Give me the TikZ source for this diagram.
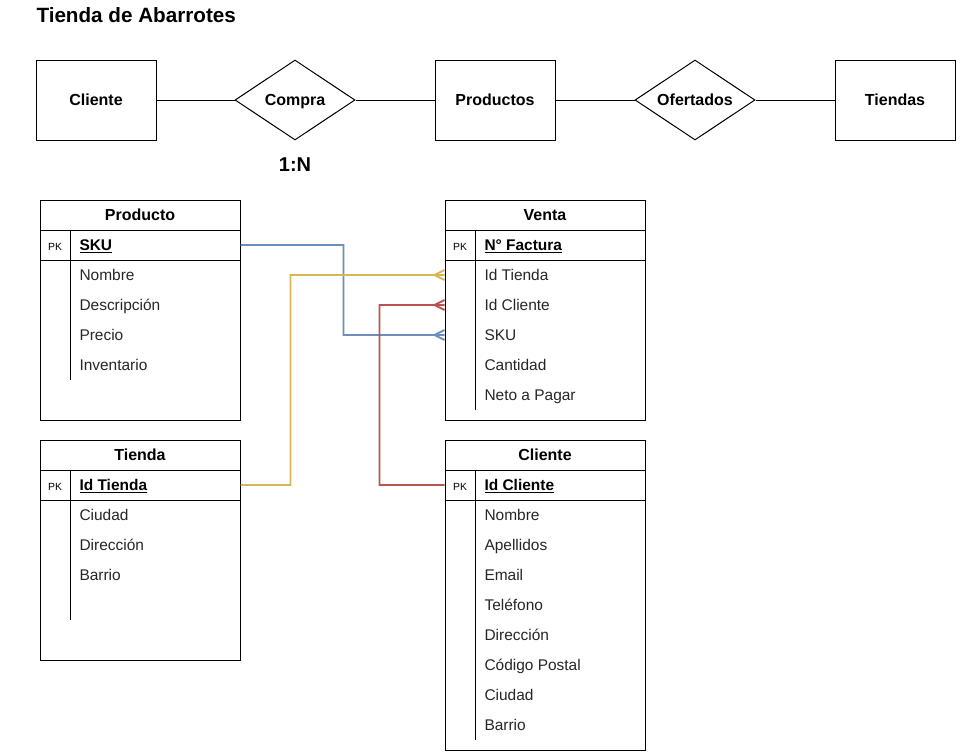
\documentclass[tikz,border=0pt]{standalone}
\usepackage{fontspec}
\setmainfont{Liberation Sans}
\usetikzlibrary{shapes.geometric}

\definecolor{fkblue}{HTML}{6C8EBF}
\definecolor{fkyellow}{HTML}{D6B656}
\definecolor{fkred}{HTML}{B85450}

\tikzset{
  titulo/.style={anchor=west, inner sep=0pt, text height=0.85em, text depth=0pt, font=\bfseries\fontsize{15.5}{18}\selectfont},
  entity/.style={draw, rectangle, minimum width=90pt, minimum height=60pt, inner sep=0pt, text height=0.85em, text depth=0pt, font=\bfseries\fontsize{12}{14}\selectfont},
  relation/.style={draw, diamond, minimum width=90pt, minimum height=60pt, inner sep=0pt},
  rlabel/.style={inner sep=0pt, text height=0.85em, text depth=0pt, font=\bfseries\fontsize{12}{14}\selectfont},
  card/.style={inner sep=0pt, text height=0.85em, text depth=0pt, font=\bfseries\fontsize{15}{18}\selectfont},
  tablebox/.style={draw, rectangle, minimum width=150pt, inner sep=0pt},
  thead/.style={inner sep=0pt, text height=0.85em, text depth=0pt, font=\bfseries\fontsize{12}{14}\selectfont},
  pk/.style={inner sep=0pt, text height=0.85em, text depth=0pt, font=\fontsize{7.8}{9}\selectfont},
  pkey/.style={anchor=west, inner sep=0pt, text height=0.85em, text depth=0pt, font=\bfseries\fontsize{11.6}{14}\selectfont},
  attr/.style={anchor=west, inner sep=0pt, text height=0.85em, text depth=0pt, font=\fontsize{11.6}{14}\selectfont, text=black!85},
  fk/.style={line width=1.4pt}
}

\begin{document}
\begin{tikzpicture}[x=0.75pt, y=-0.75pt, line width=0.75pt]
  \useasboundingbox (0,0) rectangle (956,751);

  \node[titulo] (titulo) at (36,17) {Tienda de Abarrotes};

  % modelo entidad-relacion
  \node[entity] (ecliente) at (96,100) {Cliente};
  \node[relation] (compra) at (295,100) {};
  \node[rlabel] (lcompra) at (compra) {Compra};
  \node[entity] (eproductos) at (495,100) {Productos};
  \node[relation] (ofertados) at (695,100) {};
  \node[rlabel] (lofertados) at (ofertados) {Ofertados};
  \node[entity] (etiendas) at (895,100) {Tiendas};

  \draw (ecliente) -- (compra);
  \draw (compra) -- (eproductos);
  \draw (eproductos) -- (ofertados);
  \draw (ofertados) -- (etiendas);

  \node[card] (card) at (295,166) {1:N};

  % tabla Producto
  \node[tablebox, minimum height=165pt] (tproducto) at (140,310) {};
  \node[thead] (hproducto) at (140,215) {Producto};
  \draw (40,230) -- (240,230);
  \draw (40,260) -- (240,260);
  \draw (70,230) -- (70,380);
  \node[pk] (pkproducto) at (55,245) {PK};
  \node[pkey] (psku) at (79,245) {\underline{SKU}};
  \node[attr] (pnombre) at (79,275) {Nombre};
  \node[attr] (pdescripcion) at (79,305) {Descripción};
  \node[attr] (pprecio) at (79,335) {Precio};
  \node[attr] (pinventario) at (79,365) {Inventario};

  % tabla Venta
  \node[tablebox, minimum height=165pt] (tventa) at (545,310) {};
  \node[thead] (hventa) at (545,215) {Venta};
  \draw (445,230) -- (645,230);
  \draw (445,260) -- (645,260);
  \draw (475,230) -- (475,410);
  \node[pk] (pkventa) at (460,245) {PK};
  \node[pkey] (vfactura) at (484,245) {\underline{N° Factura}};
  \node[attr] (vidtienda) at (484,275) {Id Tienda};
  \node[attr] (vidcliente) at (484,305) {Id Cliente};
  \node[attr] (vsku) at (484,335) {SKU};
  \node[attr] (vcantidad) at (484,365) {Cantidad};
  \node[attr] (vneto) at (484,395) {Neto a Pagar};

  % tabla Tienda
  \node[tablebox, minimum height=165pt] (ttienda) at (140,550) {};
  \node[thead] (htienda) at (140,455) {Tienda};
  \draw (40,470) -- (240,470);
  \draw (40,500) -- (240,500);
  \draw (70,470) -- (70,620);
  \node[pk] (pktienda) at (55,485) {PK};
  \node[pkey] (tidtienda) at (79,485) {\underline{Id Tienda}};
  \node[attr] (tciudad) at (79,515) {Ciudad};
  \node[attr] (tdireccion) at (79,545) {Dirección};
  \node[attr] (tbarrio) at (79,575) {Barrio};

  % tabla Cliente
  \node[tablebox, minimum height=232.5pt] (tcliente) at (545,595) {};
  \node[thead] (hcliente) at (545,455) {Cliente};
  \draw (445,470) -- (645,470);
  \draw (445,500) -- (645,500);
  \draw (475,470) -- (475,740);
  \node[pk] (pkcliente) at (460,485) {PK};
  \node[pkey] (cidcliente) at (484,485) {\underline{Id Cliente}};
  \node[attr] (cnombre) at (484,515) {Nombre};
  \node[attr] (capellidos) at (484,545) {Apellidos};
  \node[attr] (cemail) at (484,575) {Email};
  \node[attr] (ctelefono) at (484,605) {Teléfono};
  \node[attr] (cdireccion) at (484,635) {Dirección};
  \node[attr] (ccodigo) at (484,665) {Código Postal};
  \node[attr] (cciudad) at (484,695) {Ciudad};
  \node[attr] (cbarrio) at (484,725) {Barrio};

  % llaves foraneas
  \draw[fk, fkblue] (psku -| tproducto.east) -- ++(103,0) |- (vsku -| tventa.west)
    ++(-10,0) -- ++(10,-5) ++(-10,5) -- ++(10,5);
  \draw[fk, fkyellow] (tidtienda -| ttienda.east) -- ++(50,0) |- (vidtienda -| tventa.west)
    ++(-10,0) -- ++(10,-5) ++(-10,5) -- ++(10,5);
  \draw[fk, fkred] (cidcliente -| tcliente.west) -- ++(-65,0) |- (vidcliente -| tventa.west)
    ++(-10,0) -- ++(10,-5) ++(-10,5) -- ++(10,5);
\end{tikzpicture}
\end{document}
